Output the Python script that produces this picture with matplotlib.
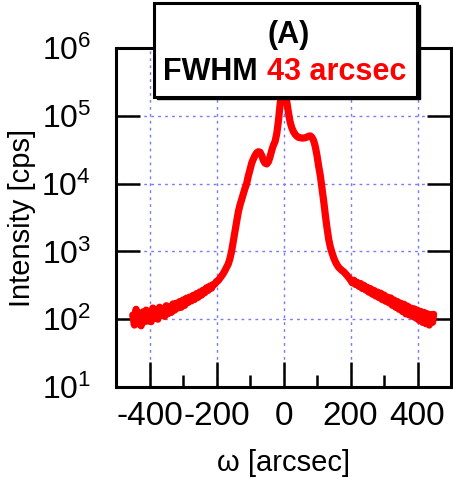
import numpy as np
from matplotlib import pyplot as plt
from matplotlib.patches import Rectangle
from matplotlib.ticker import LogLocator, MultipleLocator

plt.rcParams['font.family'] = ['Liberation Sans', 'DejaVu Sans']
plt.rcParams['mathtext.fontset'] = 'custom'
plt.rcParams['mathtext.rm'] = 'Liberation Sans'
plt.rcParams['axes.unicode_minus'] = False

# omega scan [arcsec] and intensity [cps]
omega = [-450, -445, -440, -435, -430, -425, -420, -415, -410, -405,
         -400, -395, -390, -385, -380, -375, -370, -365, -360, -355,
         -350, -345, -340, -335, -330, -325, -320, -315, -310, -305,
         -300, -295, -290, -285, -280, -275, -270, -265, -260, -255,
         -250, -245, -240, -235, -230, -225, -220, -215, -210, -205,
         -200, -195, -190, -185, -180, -175, -170, -165, -160, -155,
         -150, -145, -140, -135, -130, -125, -120, -115, -110, -105,
         -100, -95, -90, -85, -80, -75, -70, -65, -60, -55,
         -50, -45, -40, -35, -30, -25, -20, -15, -10, -5,
         0, 5, 10, 15, 20, 25, 30, 35, 40, 45,
         50, 55, 60, 65, 70, 75, 80, 85, 90, 95,
         100, 105, 110, 115, 120, 125, 130, 135, 140, 145,
         150, 155, 160, 165, 170, 175, 180, 185, 190, 195,
         200, 205, 210, 215, 220, 225, 230, 235, 240, 245,
         250, 255, 260, 265, 270, 275, 280, 285, 290, 295,
         300, 305, 310, 315, 320, 325, 330, 335, 340, 345,
         350, 355, 360, 365, 370, 375, 380, 385, 390, 395,
         400, 405, 410, 415, 420, 425, 430, 435, 440, 445, 448]
intensity = [115, 82, 140, 86, 104, 80, 128, 92, 136, 94,
             120, 92, 146, 104, 136, 100, 150, 114, 140, 110,
             158, 120, 150, 126, 168, 136, 172, 146, 182, 150,
             192, 160, 204, 176, 212, 186, 224, 196, 238, 210,
             252, 226, 268, 246, 290, 266, 308, 286, 325, 330,
             360, 370, 400, 430, 470, 520, 580, 650, 780, 1000,
             1400, 2000, 2800, 3800, 4800, 5800, 7000, 8500, 10000, 13000,
             16000, 20000, 23000, 26000, 28500, 29500, 29000, 26000, 22000, 20000,
             19500, 21000, 25000, 31000, 37000, 42000, 55000, 85000, 150000, 230000,
             260000, 230000, 160000, 110000, 80000, 66000, 58000, 53000, 50000, 48000,
             47500, 47000, 47000, 47500, 48500, 50000, 50500, 48000, 43000, 35000,
             26000, 18000, 13000, 8500, 5500, 3400, 2200, 1500, 1150, 950,
             800, 700, 630, 580, 550, 520, 500, 470, 440, 410,
             380, 345, 375, 325, 350, 305, 336, 284, 316, 270,
             296, 250, 282, 234, 266, 220, 252, 208, 242, 194,
             228, 184, 212, 174, 206, 160, 192, 150, 182, 140,
             172, 130, 166, 120, 156, 116, 146, 110, 142, 104,
             136, 96, 130, 90, 126, 86, 120, 82, 116, 90, 118]

fig = plt.figure(figsize=(4.53, 4.80), dpi=100)
ax = fig.add_axes([116/453, 1 - 387/480, 335/453, 339/480])

ax.plot(omega, intensity, color='red', lw=5.2, solid_joinstyle='round',
        solid_capstyle='round', zorder=3)

ax.set_yscale('log')
ax.set_xlim(-500, 500)
ax.set_ylim(10, 1e6)
ax.xaxis.set_major_locator(MultipleLocator(200))
ax.xaxis.set_minor_locator(MultipleLocator(100))
ax.yaxis.set_major_locator(LogLocator(base=10, numticks=10))
ax.yaxis.set_minor_locator(plt.NullLocator())

ax.grid(True, which='major', color='#7a7aff', lw=1.0, ls=(0, (2, 3)), zorder=1)

for s in ax.spines.values():
    s.set_linewidth(2.2)
ax.tick_params(axis='x', which='major', direction='in', length=18, width=1.8,
               bottom=True, top=False, labelsize=24, pad=10)
ax.tick_params(axis='x', which='minor', direction='in', length=9, width=1.8,
               bottom=True, top=False)
ax.tick_params(axis='y', which='major', direction='in', length=17, width=1.8,
               left=True, right=True, labelsize=23, pad=18)

ax.set_xlabel('ω [arcsec]', fontsize=21, labelpad=12)
ax.set_ylabel('Intensity [cps]', fontsize=21, labelpad=4)

# label box on top of the peak
shadow = Rectangle((157/453, 1 - 99/480), 263/453, 94/480, transform=fig.transFigure,
                   facecolor='black', edgecolor='black', zorder=10)
box = Rectangle((154/453, 1 - 97/480), 263/453, 94/480, transform=fig.transFigure,
                facecolor='white', edgecolor='black', lw=2.2, zorder=11)
fig.add_artist(shadow)
fig.add_artist(box)
fig.text(289/453, 1 - 35/480, '(A)', fontsize=22, fontweight='bold',
         ha='center', va='center', zorder=12)
fig.text(163/453, 1 - 72/480, 'FWHM', fontsize=22, fontweight='bold',
         ha='left', va='center', zorder=12)
fig.text(267/453, 1 - 72/480, '43 arcsec', fontsize=22, fontweight='bold',
         color='red', ha='left', va='center', zorder=12)

fig.savefig('out.png', dpi=100)
